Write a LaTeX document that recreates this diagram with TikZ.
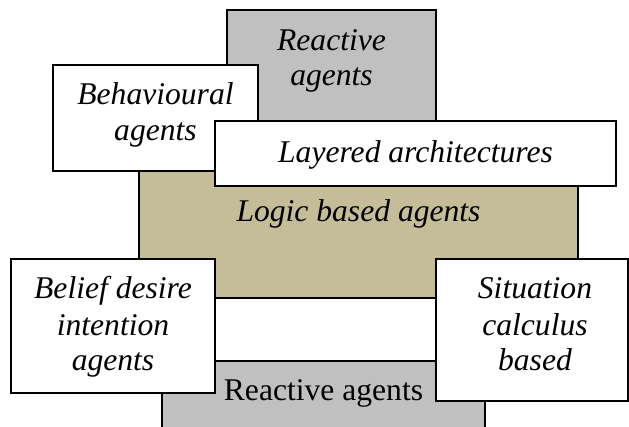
\documentclass[tikz,border=0pt]{standalone}
\usepackage{fontspec}
\setmainfont{Liberation Serif}
\definecolor{boxgray}{HTML}{C0C0C0}
\definecolor{boxtan}{HTML}{C4BD97}
\begin{document}
\begin{tikzpicture}[x=1pt,y=-1pt,
  panel/.style={draw=black,line width=1.6pt,rectangle},
  lbl/.style={anchor=base,inner sep=0pt,font=\fontsize{31.6}{36}\selectfont\itshape},
  lblup/.style={anchor=base,inner sep=0pt,font=\fontsize{31.6}{36}\selectfont}]
\useasboundingbox (0,0) rectangle (629,426);
\clip (0,0) rectangle (629,426);
% top gray
\path[panel,fill=boxgray] (227,10) rectangle (436,135);
\node[lbl] (ra1) at (331.5,50) {Reactive};
\node[lbl] (ra2) at (331.5,85) {agents};
% tan logic
\path[panel,fill=boxtan] (139,160) rectangle (578,298);
% behavioural
\path[panel,fill=white] (53,65) rectangle (258,171);
\node[lbl] (be1) at (155.5,104) {Behavioural};
\node[lbl] (be2) at (155.5,140) {agents};
% layered
\path[panel,fill=white] (215,121) rectangle (616,186);
\node[lbl] (la) at (415.5,162) {Layered architectures};
\node[lbl] (lo) at (358.5,221) {Logic based agents};
% bottom gray
\path[panel,fill=boxgray] (162,361) rectangle (485,440);
\node[lblup] (rb) at (323.5,400) {Reactive agents};
% belief
\path[panel,fill=white] (11,259) rectangle (215,393);
\node[lbl] (bd1) at (113,298) {Belief desire};
\node[lbl] (bd2) at (113,335) {intention};
\node[lbl] (bd3) at (113,370) {agents};
% situation
\path[panel,fill=white] (436,259) rectangle (628,401);
\node[lbl] (sc1) at (535,298) {Situation};
\node[lbl] (sc2) at (535,335) {calculus};
\node[lbl] (sc3) at (535,370) {based};
\end{tikzpicture}
\end{document}
